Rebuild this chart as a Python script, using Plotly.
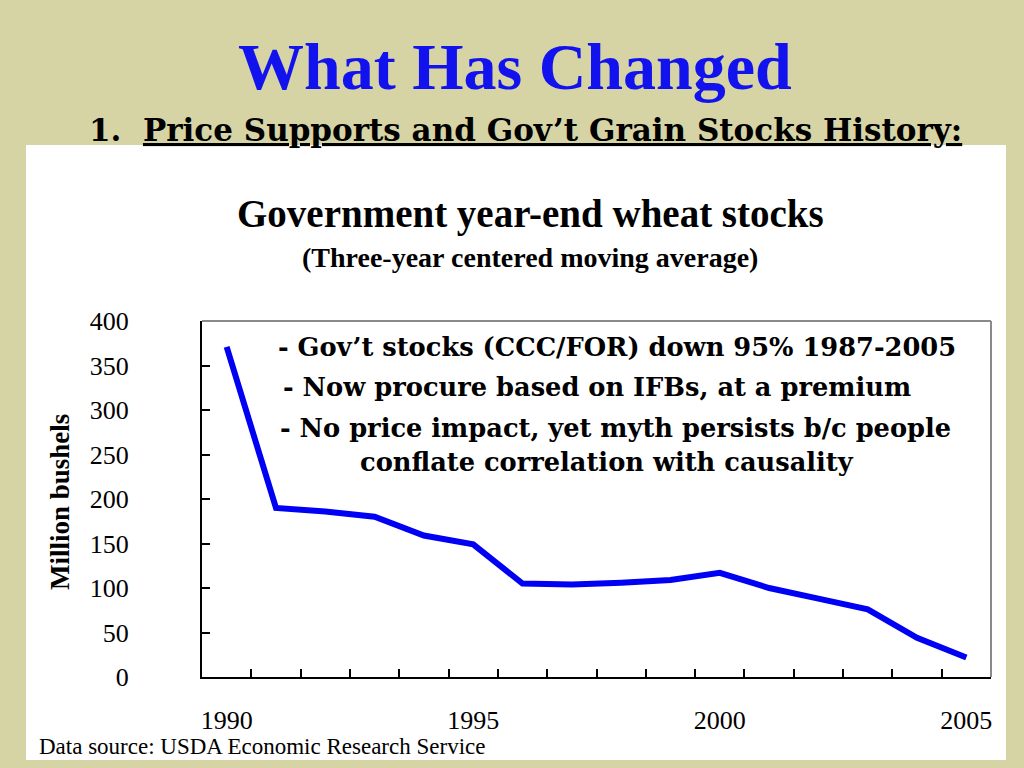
import plotly.graph_objects as go

# ---- data ----
years = list(range(1990, 2006))
stocks = [371, 190, 186, 180, 159, 149, 105, 104, 106, 109, 117, 100, 88, 76, 44, 22]
y_ticks = [0, 50, 100, 150, 200, 250, 300, 350, 400]
x_label_years = [1990, 1995, 2000, 2005]
x_minor_ticks = [y + 0.5 for y in range(1990, 2006)]

notes = [
    "- Gov’t stocks (CCC/FOR) down 95% 1987-2005",
    "- Now procure based on IFBs, at a premium",
    "- No price impact, yet myth persists b/c people",
    "conflate correlation with causality",
]

W, H = 1024, 768
KHAKI = "#d6d3a5"
BLUE = "#0000f5"

def px(x):
    return x / W

def py(y):
    return 1 - y / H

fig = go.Figure()
fig.add_trace(go.Scatter(
    x=years, y=stocks, mode="lines",
    line=dict(color=BLUE, width=6),
    hoverinfo="skip", showlegend=False,
))

serif = "Liberation Serif, Times New Roman, serif"
georgia = "DejaVu Serif, Georgia, serif"

fig.update_layout(
    width=W, height=H,
    margin=dict(l=0, r=0, t=0, b=0),
    paper_bgcolor=KHAKI,
    plot_bgcolor="white",
    showlegend=False,
    xaxis=dict(
        domain=[px(202), px(991)],
        range=[1989.5, 2005.5],
        tickmode="array", tickvals=x_label_years,
        ticktext=[str(v) for v in x_label_years],
        ticks="", showgrid=False, zeroline=False,
        showline=True, linecolor="black", linewidth=2,
        tickfont=dict(family=serif, size=26, color="black"),
        ticklabelstandoff=19,
        automargin=False,
        minor=dict(tickmode="array", tickvals=x_minor_ticks, ticks="inside",
                   ticklen=8, tickwidth=2, tickcolor="black", showgrid=False),
    ),
    yaxis=dict(
        domain=[py(677), py(321)],
        range=[0, 400],
        tickmode="array", tickvals=y_ticks,
        ticks="inside", ticklen=8, tickwidth=2, tickcolor="black",
        showgrid=False, zeroline=False,
        showline=True, linecolor="black", linewidth=2,
        tickfont=dict(family=serif, size=26, color="black"),
        ticklabelstandoff=66,
        automargin=False,
    ),
    shapes=[
        dict(type="rect", xref="paper", yref="paper",
             x0=px(26), x1=px(1006), y0=py(760), y1=py(145),
             fillcolor="white", line=dict(width=0), layer="below"),
        dict(type="line", xref="x domain", yref="y domain",
             x0=0, x1=1, y0=1, y1=1, line=dict(color="#8a8a8a", width=2)),
        dict(type="line", xref="x domain", yref="y domain",
             x0=1, x1=1, y0=0, y1=1, line=dict(color="#8a8a8a", width=2)),
    ],
)

ann = []
ann.append(dict(text="<b>What Has Changed</b>", x=px(515), y=py(66),
                font=dict(family=serif, size=66, color="#1212ee")))
ann.append(dict(text="<b>1.  <u>Price Supports and Gov’t Grain Stocks History:</u></b>",
                x=px(87), y=py(130), xanchor="left",
                font=dict(family=georgia, size=31, color="black")))
ann.append(dict(text="<b>Government year-end wheat stocks</b>", x=px(530), y=py(214),
                font=dict(family=serif, size=39, color="black")))
ann.append(dict(text="<b>(Three-year centered moving average)</b>", x=px(530), y=py(257),
                font=dict(family=serif, size=28, color="black")))
note_pos = [(276, 347), (281, 387), (278, 428), (358, 462)]
for t, (nx, ny) in zip(notes, note_pos):
    ann.append(dict(text="<b>" + t + "</b>", x=px(nx), y=py(ny), xanchor="left",
                    font=dict(family=georgia, size=25.7, color="black")))
ann.append(dict(text="<b>Million bushels</b>", x=px(60), y=py(502), textangle=-90,
                font=dict(family=serif, size=27, color="black")))
ann.append(dict(text="Data source: USDA Economic Research Service", x=px(37), y=py(746),
                xanchor="left",
                font=dict(family=serif, size=23, color="black")))

for a in ann:
    a.setdefault("xanchor", "center")
    a.update(xref="paper", yref="paper", yanchor="middle", showarrow=False)
fig.update_layout(annotations=ann)

fig.write_html(
    "out.html",
    config={"displayModeBar": False},
    post_script="document.body.style.margin='0';document.body.style.overflow='hidden';",
)
